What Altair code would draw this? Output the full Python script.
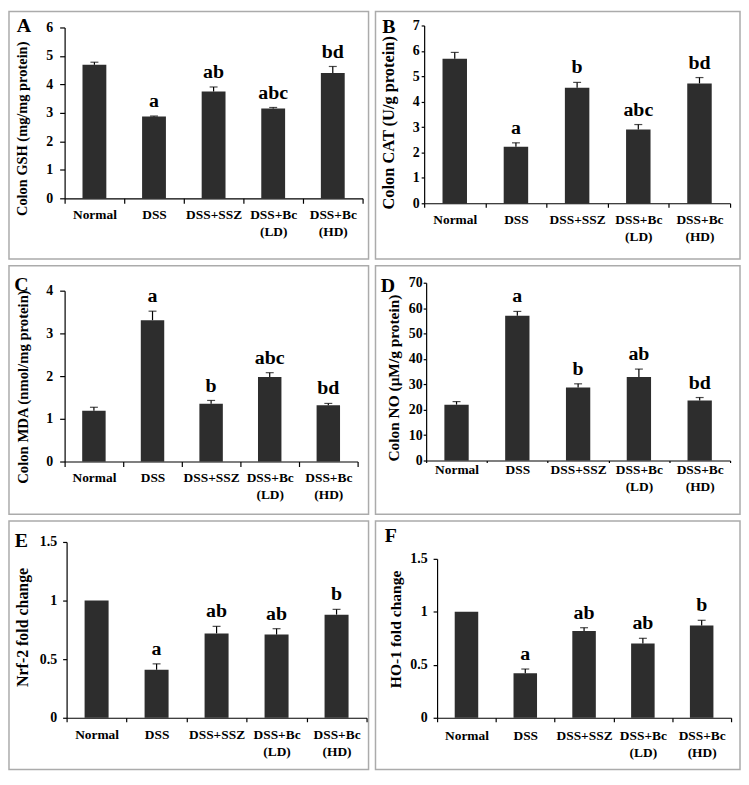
import altair as alt
import pandas as pd

SERIF = "Liberation Serif"
BAR = "#2d2d2d"

groups = ["Normal", "DSS", "DSS+SSZ", "DSS+Bc (LD)", "DSS+Bc (HD)"]

gsh_mean = [4.69, 2.87, 3.75, 3.15, 4.40]
gsh_err = [0.09, 0.02, 0.16, 0.04, 0.23]
gsh_sig = ["", "a", "ab", "abc", "bd"]

cat_mean = [5.69, 2.23, 4.55, 2.90, 4.72]
cat_err = [0.25, 0.15, 0.21, 0.20, 0.23]
cat_sig = ["", "a", "b", "abc", "bd"]

mda_mean = [1.19, 3.31, 1.35, 1.98, 1.32]
mda_err = [0.08, 0.21, 0.08, 0.10, 0.04]
mda_sig = ["", "a", "b", "abc", "bd"]

no_mean = [22.0, 57.0, 28.8, 32.9, 23.6]
no_err = [1.2, 1.7, 1.4, 3.1, 1.2]
no_sig = ["", "a", "b", "ab", "bd"]

nrf2_mean = [1.0, 0.41, 0.72, 0.71, 0.88]
nrf2_err = [0.0, 0.05, 0.06, 0.05, 0.045]
nrf2_sig = ["", "a", "ab", "ab", "b"]

ho1_mean = [1.0, 0.42, 0.82, 0.70, 0.87]
ho1_err = [0.0, 0.04, 0.03, 0.05, 0.05]
ho1_sig = ["", "a", "ab", "ab", "b"]

panels_spec = [
    dict(letter="A", title="Colon GSH (mg/mg protein)", tfs=14.5, fmt="d",
         mean=gsh_mean, err=gsh_err, sig=gsh_sig, ymax=6, yticks=[0, 1, 2, 3, 4, 5, 6],
         BW=362, BH=249, L=56, T=16, w=300, h=172, ytick=5, ypad=7, xtick=5, xpad=4,
         lx=15, ly=21, tx=14, ty=118),
    dict(letter="B", title="Colon CAT (U/g protein)", tfs=16.5, fmt="d",
         mean=cat_mean, err=cat_err, sig=cat_sig, ymax=7, yticks=[0, 1, 2, 3, 4, 5, 6, 7],
         BW=367, BH=249, L=49, T=14, w=308, h=179, ytick=3, ypad=2, xtick=4, xpad=5,
         lx=13.5, ly=22, tx=13.5, ty=112),
    dict(letter="C", title="Colon MDA (nmol/mg protein)", tfs=14.8, fmt="d",
         mean=mda_mean, err=mda_err, sig=mda_sig, ymax=4, yticks=[0, 1, 2, 3, 4],
         BW=362, BH=250, L=56, T=25, w=295, h=172, ytick=5, ypad=7, xtick=5, xpad=4,
         lx=12.5, ly=25, tx=15, ty=122),
    dict(letter="D", title="Colon NO (μM/g protein)", tfs=15.5, fmt="d",
         mean=no_mean, err=no_err, sig=no_sig, ymax=70, yticks=[0, 10, 20, 30, 40, 50, 60, 70],
         BW=367, BH=250, L=51, T=17, w=306, h=179, ytick=3, ypad=1, xtick=2, xpad=0,
         lx=12.5, ly=26, tx=18.5, ty=113),
    dict(letter="E", title="Nrf-2 fold change", tfs=16, fmt="~g",
         mean=nrf2_mean, err=nrf2_err, sig=nrf2_sig, ymax=1.5, yticks=[0, 0.5, 1, 1.5],
         BW=362, BH=250, L=58, T=21, w=302, h=177, ytick=4, ypad=6, xtick=4, xpad=6,
         lx=12.5, ly=26, tx=14, ty=107),
    dict(letter="F", title="HO-1 fold change", tfs=15.7, fmt="~g",
         mean=ho1_mean, err=ho1_err, sig=ho1_sig, ymax=1.5, yticks=[0, 0.5, 1, 1.5],
         BW=367, BH=250, L=62, T=38, w=296, h=160, ytick=4, ypad=6, xtick=4, xpad=7,
         lx=15.5, ly=21, tx=21, ty=109),
]


def panel(p):
    df = pd.DataFrame({"group": groups, "mean": p["mean"], "err": p["err"], "sig": p["sig"]})
    df["top"] = df["mean"] + df["err"]
    one = pd.DataFrame({"k": [0]})

    xscale = alt.Scale(domain=groups, range=[p["L"], p["L"] + p["w"]],
                       paddingInner=0, paddingOuter=0)
    yscale = alt.Scale(domain=[0, p["ymax"]], range=[p["T"] + p["h"], p["T"]],
                       nice=False, zero=True)

    xaxis = alt.Axis(title=None, offset=-(p["BH"] - p["T"] - p["h"]), tickBand="extent",
                     tickSize=p["xtick"], labelPadding=p["xpad"], labelAngle=0,
                     labelFont=SERIF, labelFontWeight="bold", labelFontSize=13.5,
                     labelColor="black", labelLineHeight=17,
                     labelExpr="split(datum.label, ' ')", labelOverlap=False,
                     domainColor="black", tickColor="black", domainWidth=1.2, tickWidth=1.2,
                     grid=False, zindex=1)
    yaxis = alt.Axis(title=None, offset=-p["L"], values=p["yticks"], format=p["fmt"],
                     tickSize=p["ytick"], labelPadding=p["ypad"],
                     labelFont=SERIF, labelFontWeight="bold", labelFontSize=14,
                     labelColor="black", domainColor="black", tickColor="black",
                     domainWidth=1.2, tickWidth=1.2, grid=False, zindex=1)

    base = alt.Chart(df)
    xe = alt.X("group:N", sort=groups, scale=xscale, axis=xaxis)

    bars = base.mark_bar(color=BAR, width=alt.RelativeBandSize(0.4)).encode(
        x=xe, y=alt.Y("mean:Q", scale=yscale, axis=yaxis))
    witherr = base.transform_filter("datum.err > 0")
    rules = witherr.mark_rule(color="black", strokeWidth=1.2).encode(
        x=xe, y=alt.Y("mean:Q", scale=yscale, axis=yaxis), y2="top:Q")
    caps = witherr.mark_tick(color="black", thickness=1.2, size=8, orient="horizontal").encode(
        x=xe, y=alt.Y("top:Q", scale=yscale, axis=yaxis))
    sig = base.mark_text(font=SERIF, fontWeight="bold", fontSize=20, color="black",
                         baseline="alphabetic", dy=-9).encode(
        x=xe, y=alt.Y("top:Q", scale=yscale, axis=yaxis), text="sig:N")
    tag = alt.Chart(one).mark_text(text=p["letter"], font=SERIF, fontWeight="bold",
                                   fontSize=20, color="black", align="center",
                                   baseline="alphabetic").encode(
        x=alt.value(p["lx"]), y=alt.value(p["ly"]))
    ytitle = alt.Chart(one).mark_text(text=p["title"], font=SERIF, fontWeight="bold",
                                      fontSize=p["tfs"], color="black", angle=270,
                                      align="center", baseline="middle").encode(
        x=alt.value(p["tx"]), y=alt.value(p["ty"]))
    return alt.layer(bars, rules, caps, sig, tag, ytitle).properties(
        width=p["BW"], height=p["BH"])


charts = [panel(p) for p in panels_spec]

chart = alt.concat(*charts, columns=2, spacing=5, align="each", bounds="full").properties(
    padding=0, background="white"
).configure_view(stroke="#ababab", strokeWidth=1.5)

chart.save("out.html", embed_options={"renderer": "svg", "actions": False})
